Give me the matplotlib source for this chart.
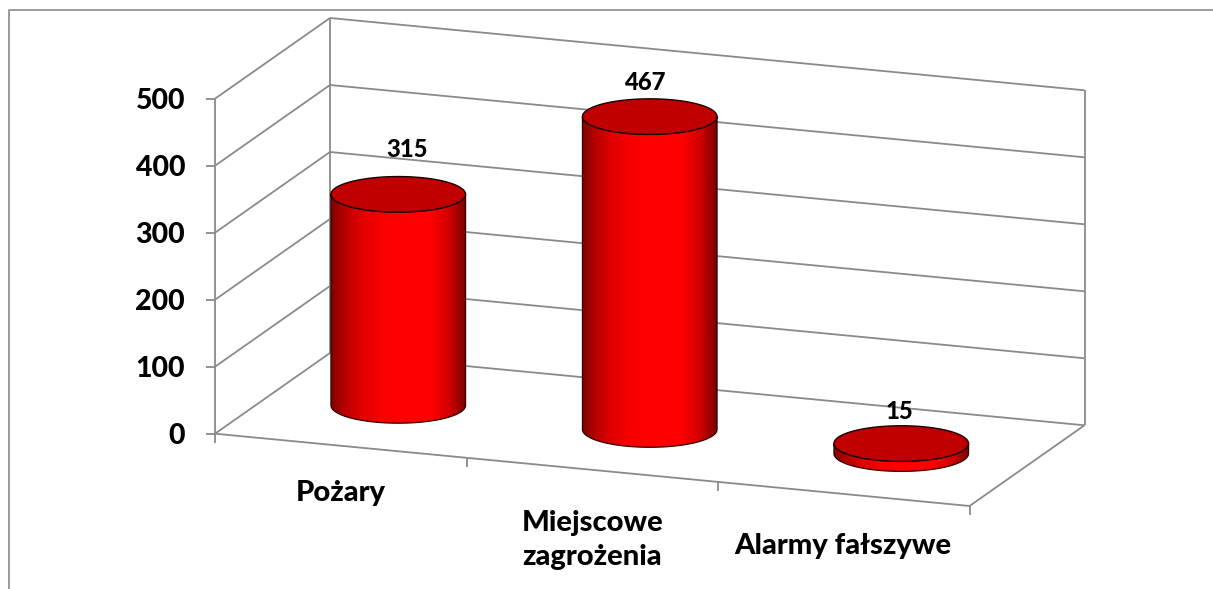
"""Pseudo-3D cylinder chart of fire brigade call-outs."""

import matplotlib

matplotlib.use("Agg")
import matplotlib.pyplot as plt  # noqa: E402
import numpy as np  # noqa: E402
from matplotlib.colors import LinearSegmentedColormap  # noqa: E402
from matplotlib.patches import PathPatch  # noqa: E402
from matplotlib.path import Path  # noqa: E402

categories = ["Pożary", "Miejscowe\nzagrożenia", "Alarmy fałszywe"]
values = [315, 467, 15]
y_ticks = [0, 100, 200, 300, 400, 500]

# projection of the box, in pixels
ORIGIN = np.array([215.0, 433.7])
X_STEP = np.array([251.5, 24.1])  # one category along the front edge
DEPTH = np.array([115.0, -80.7])  # front to back
PX_PER_UNIT = 0.67
RADIUS_X, RADIUS_Y = 67.3, 17.8

LINE = "#8a8a8a"
LINE_W = 1.3

# text placement relative to the projected anchors
CAT_OFFSETS = [(0.5, 55), (0, 95), (-1, 60)]
VALUE_OFFSETS = [(8.5, -37.5), (-5, -27), (-1.5, -25)]

FONT = "Lato"
WEIGHT = 900
side_cmap = LinearSegmentedColormap.from_list(
    "side",
    [(0.0, "#800000"), (0.1, "#b80000"), (0.22, "#e00000"), (0.38, "#fa0000"),
     (0.5, "#ff0000"), (0.74, "#ff0000"), (0.88, "#d00000"), (1.0, "#780000")],
)


def project(u, d=0.0, v=0.0):
    """Category position, depth fraction and value to pixel coordinates."""
    p = ORIGIN + u * X_STEP + d * DEPTH
    return p[0], p[1] - v * PX_PER_UNIT


def line(ax, a, b):
    ax.plot([a[0], b[0]], [a[1], b[1]], color=LINE, lw=LINE_W, zorder=1,
            solid_capstyle="butt")


def draw_cylinder(ax, value, i):
    cx, cy_base = project(i + 0.5, 0.5)
    cy_top = cy_base - value * PX_PER_UNIT
    theta = np.linspace(0, np.pi, 80)

    # side surface: down the left edge, round the front of the base, back up
    base_x = cx - RADIUS_X * np.cos(theta)
    base_y = cy_base + RADIUS_Y * np.sin(theta)
    top_x = cx + RADIUS_X * np.cos(theta)
    top_y = cy_top + RADIUS_Y * np.sin(theta)
    verts = np.column_stack([np.r_[base_x, top_x], np.r_[base_y, top_y]])
    outline = PathPatch(Path(np.vstack([verts, verts[0]]), closed=True),
                        facecolor="none", edgecolor="#300000", lw=0.9, zorder=3)
    ax.add_patch(outline)
    shade = ax.imshow(
        np.linspace(0, 1, 256).reshape(1, -1), cmap=side_cmap, aspect="auto",
        extent=(cx - RADIUS_X, cx + RADIUS_X, cy_base + RADIUS_Y, cy_top - RADIUS_Y),
        zorder=2,
    )
    shade.set_clip_path(outline)

    # lid
    t = np.linspace(0, 2 * np.pi, 160)
    ax.fill(cx + RADIUS_X * np.cos(t), cy_top + RADIUS_Y * np.sin(t),
            facecolor="#c00000", edgecolor="#1a0000", lw=1.0, zorder=4)


def main():
    fig = plt.figure(figsize=(12.13, 5.89), dpi=100)
    ax = fig.add_axes([0, 0, 1, 1])
    ax.axis("off")

    # outer chart frame, cut off by the picture on the right and at the bottom
    ax.plot([8.5, 8.5, 1213], [589, 10, 10], color="#9a9a9a", lw=1.4, zorder=1)

    n = len(categories)
    for tick in y_ticks:
        front = project(0, 0, tick)
        back = project(0, 1, tick)
        back_right = project(n, 1, tick)
        line(ax, front, back)
        line(ax, back, back_right)
        line(ax, (front[0] - 9, front[1]), front)
        ax.text(185, front[1] + 10.5, str(tick), ha="right", va="baseline",
                family=FONT, weight=WEIGHT, fontsize=20.5, color="black")

    line(ax, project(0, 0, 0), project(0, 0, y_ticks[-1]))
    line(ax, project(0, 1, 0), project(0, 1, y_ticks[-1]))
    line(ax, project(n, 1, 0), project(n, 1, y_ticks[-1]))
    line(ax, project(0, 0, 0), project(n, 0, 0))
    line(ax, project(n, 0, 0), project(n, 1, 0))
    for i in range(n + 1):
        x, y = project(i)
        line(ax, (x, y), (x, y + 9))

    for i, (name, value) in enumerate(zip(categories, values)):
        draw_cylinder(ax, value, i)
        cx, cy = project(i + 0.5, 0.5, value)
        dx, dy = VALUE_OFFSETS[i]
        ax.text(cx + dx, cy + dy, str(value), ha="center", va="baseline",
                family=FONT, weight=WEIGHT, fontsize=17.2, color="black", zorder=5)
        x, y = project(i + 0.5)
        dx, dy = CAT_OFFSETS[i]
        ax.text(x + dx, y + dy, name, ha="center", va="baseline", linespacing=1.38,
                family=FONT, weight=WEIGHT, fontsize=21, color="black")

    ax.set_xlim(0, 1213)
    ax.set_ylim(589, 0)
    fig.savefig("out.png", dpi=100, facecolor="white")
    plt.close(fig)


if __name__ == "__main__":
    main()
